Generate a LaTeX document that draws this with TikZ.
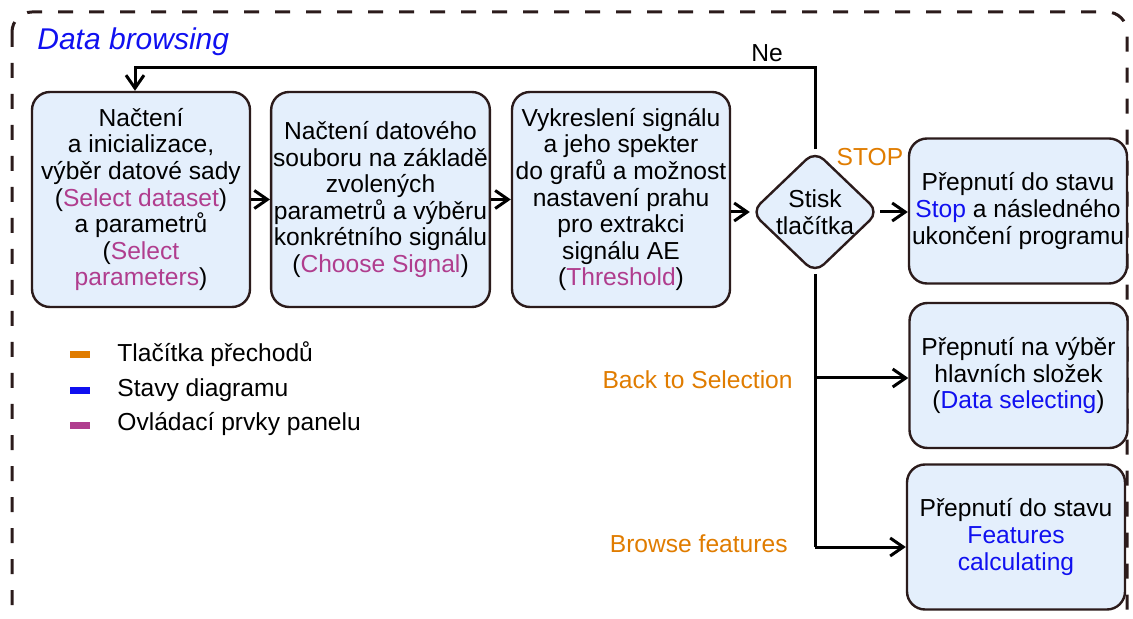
\documentclass[tikz,border=0pt]{standalone}
\usepackage{fontspec}
\setmainfont{Liberation Sans}
\usetikzlibrary{shapes.geometric, positioning, arrows.meta, calc}

\definecolor{boxfill}{HTML}{E4EFFC}
\definecolor{edge}{HTML}{2B1B1B}
\definecolor{ctrl}{HTML}{B03D8E}
\definecolor{transc}{HTML}{E07C00}
\definecolor{state}{HTML}{1010F0}

\newcommand{\ctl}[1]{\textcolor{ctrl}{#1}}
\newcommand{\stav}[1]{\textcolor{state}{#1}}

\begin{document}
\begin{tikzpicture}[x=0.5pt, y=-0.5pt, >={Straight Barb[length=6.5pt, width=9pt]}, font=\fontsize{12.3}{13.3}\selectfont, box/.style={draw=edge, fill=boxfill, line width=1.2pt, rounded corners=9pt, align=center, inner sep=1pt, minimum width=109pt, minimum height=107.5pt}, sidebox/.style={box, minimum height=72.5pt}, decision/.style={draw=edge, fill=boxfill, line width=1.2pt, diamond, rounded corners=6pt, align=center, inner sep=0pt, minimum width=64pt, minimum height=60pt}, flow/.style={->, line width=1.5pt}, link/.style={line width=1.5pt}, label/.style={inner sep=2pt}, legbar/.style={line width=3.5pt}]
\useasboundingbox (0,0) rectangle (1133,619);
\draw[edge, line width=1.5pt, dash pattern=on 7.5pt off 8pt, rounded corners=10pt] (12,12) rectangle (1127,640);
\node[label, anchor=west, text=state, font=\fontsize{15}{18}\selectfont\itshape] (title) at (33,42) {Data browsing};
% main row
\node[box] (load) at (141,199.5) {Načtení\\a inicializace,\\výběr datové sady\\(\ctl{Select dataset})\\a parametrů\\(\ctl{Select}\\\ctl{parameters})};
\node[box] (file) at (380.5,199.5) {Načtení datového\\souboru na základě\\zvolených\\parametrů a výběru\\konkrétního signálu\\(\ctl{Choose Signal})};
\node[box] (plot) at (621,199.5) {Vykreslení signálu\\a jeho spekter\\do grafů a možnost\\nastavení prahu\\pro extrakci\\signálu AE\\(\ctl{Threshold})};
\node[decision] (dec) at (815,212) {Stisk\\tlačítka};
% right column
\node[sidebox] (stop) at (1018,211) {Přepnutí do stavu\\\stav{Stop} a následného\\ukončení programu};
\node[sidebox] (sel) at (1018.5,375.5) {Přepnutí na výběr\\hlavních složek\\(\stav{Data selecting})};
\node[sidebox] (feat) at (1016,537) {Přepnutí do stavu\\\stav{Features}\\\stav{calculating}};
\coordinate (back) at (815,68);
\coordinate (jsel) at (815,378);
\coordinate (jfeat) at (815,547);
\draw[flow] (load) -- (file);
\draw[flow] (file) -- (plot);
\draw[flow] (plot.east |- dec) -- (dec.west);
\draw[flow] (dec.east) -- (stop.west |- dec.east);
\draw[flow] (dec.north) -- (back) -| ([xshift=-3pt]load.north);
\draw[link] (dec.south) -- (jfeat);
\draw[flow] (jsel) -- (sel.west |- jsel);
\draw[flow] (jfeat) -- (feat.west |- jfeat);
\node[label] (ne) at (767,53) {Ne};
\node[label, text=transc] (stoplbl) at (870,157) {STOP};
\node[label, text=transc, anchor=east] (backlbl) at (797,380) {Back to Selection};
\node[label, text=transc, anchor=east] (browselbl) at (792,544) {Browse features};
% legend
\draw[legbar, transc] (70,355) -- (90,355);
\draw[legbar, state] (70,391) -- (90,391);
\draw[legbar, ctrl] (70,425) -- (90,425);
\node[label, anchor=west] (leg1) at (113,354) {Tlačítka přechodů};
\node[label, anchor=west] (leg2) at (113,390) {Stavy diagramu};
\node[label, anchor=west] (leg3) at (113,424) {Ovládací prvky panelu};
\end{tikzpicture}
\end{document}
